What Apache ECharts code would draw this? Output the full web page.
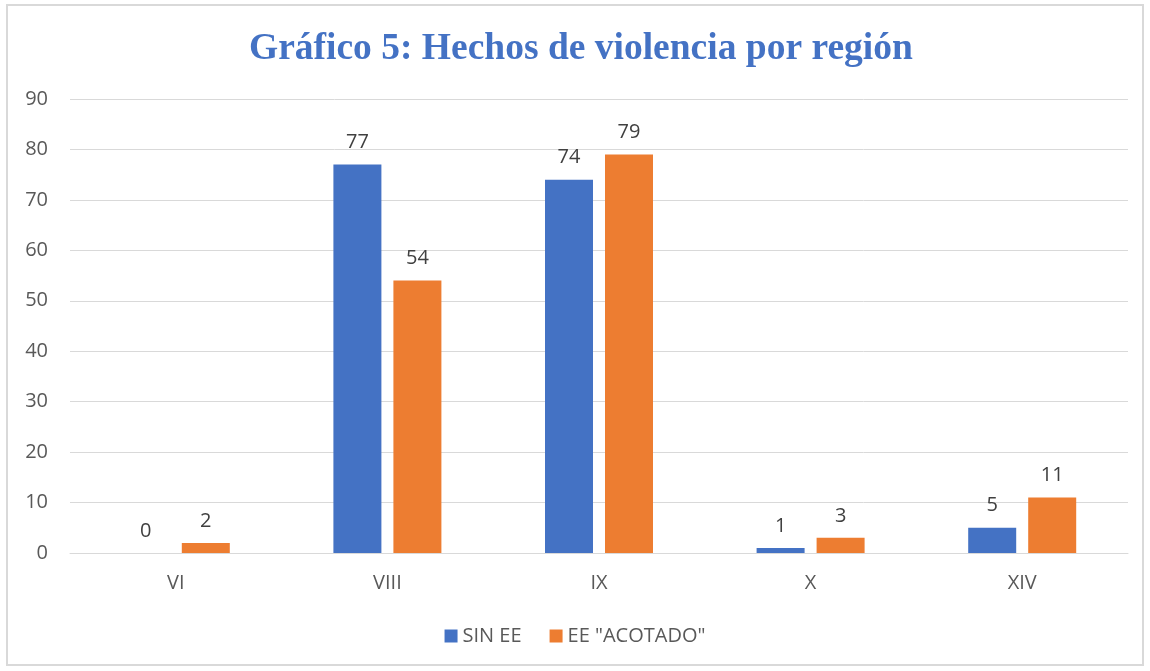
<!DOCTYPE html>
<html><head><meta charset="utf-8">
<script src="https://cdn.jsdelivr.net/npm/echarts@6/dist/echarts.min.js"></script>
<style>html,body{margin:0;padding:0;background:#fff;}
#c{width:1150px;height:671px;position:relative;}
#frame{position:absolute;left:6px;top:4px;width:1138px;height:662px;border:2px solid #d9d9d9;box-sizing:border-box;pointer-events:none;z-index:5;}
</style></head><body>
<div style="position:relative;width:1150px;height:671px;"><div id="c"></div><div id="frame"></div></div>
<script>
const categories = ['VI','VIII','IX','X','XIV'];
const sinEE = [0,77,74,1,5];
const acotado = [2,54,79,3,11];
const seriesNames = ['SIN EE','EE "ACOTADO"'];
const chart = echarts.init(document.getElementById('c'));
const lbl = {show:true,position:'top',distance:12,color:'#404040',fontSize:20,fontFamily:'Open Sans'};
chart.setOption({
  animation:false,
  title:{text:'Gráfico 5: Hechos de violencia por región',left:244,top:25,
    textStyle:{fontFamily:'Liberation Serif',fontWeight:'bold',fontSize:37.5,color:'#4472C4'}},
  grid:{left:70,right:22,top:99,bottom:118},
  legend:{bottom:20,left:'center',itemWidth:13,itemHeight:13,itemGap:28,icon:'rect',
    textStyle:{fontFamily:'Open Sans',fontSize:20,color:'#595959'}},
  xAxis:{type:'category',data:categories,axisTick:{show:false},
    axisLine:{lineStyle:{color:'#d9d9d9',width:1}},
    axisLabel:{fontFamily:'Open Sans',fontSize:20,color:'#595959',margin:20}},
  yAxis:{type:'value',min:0,max:90,interval:10,axisLine:{show:false},axisTick:{show:false},
    splitLine:{lineStyle:{color:'#d9d9d9',width:1}},
    axisLabel:{fontFamily:'Open Sans',fontSize:20,color:'#595959',margin:22}},
  series:[
    {name:seriesNames[0],type:'bar',data:sinEE,barWidth:48,barGap:'25%',itemStyle:{color:'#4472C4'},label:lbl},
    {name:seriesNames[1],type:'bar',data:acotado,barWidth:48,barGap:'25%',itemStyle:{color:'#ED7D31'},label:lbl}
  ]
});
</script></body></html>
